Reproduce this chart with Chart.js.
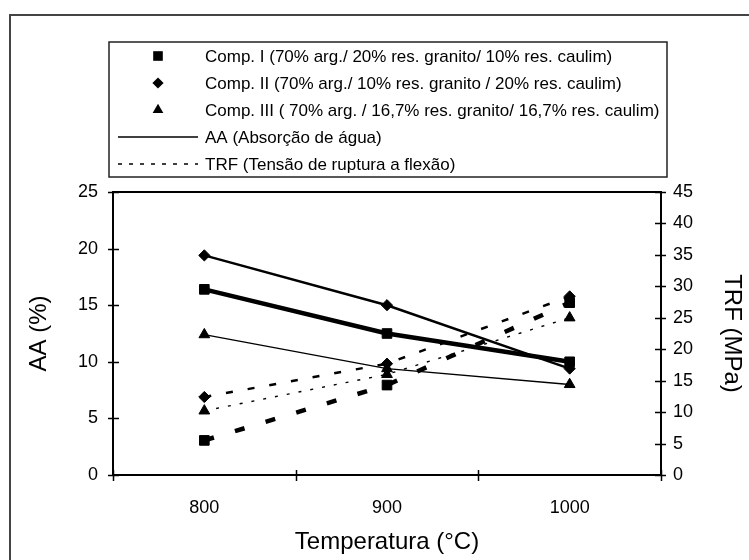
<!DOCTYPE html>
<html><head><meta charset="utf-8">
<script src="https://cdn.jsdelivr.net/npm/chart.js@4.4.1/dist/chart.umd.min.js"></script>
<style>html,body{margin:0;padding:0;background:#fff}#wrap{width:749px;height:560px;position:relative}</style>
</head><body><div id="wrap"><canvas id="c" width="749" height="560"></canvas></div>
<script>
// ---- data ----
const temperatures = ['800', '900', '1000'];
const aaComp1 = [16.4, 12.5, 10.0];
const aaComp2 = [19.4, 15.0, 9.4];
const aaComp3 = [12.4, 9.4, 8.0];
const trfComp1 = [5.5, 14.3, 27.4];
const trfComp2 = [12.4, 17.7, 28.4];
const trfComp3 = [10.2, 16.0, 25.0];
const compLabels = [
  'Comp. I (70% arg./ 20% res. granito/ 10% res. caulim)',
  'Comp. II (70% arg./ 10% res. granito / 20% res. caulim)',
  'Comp. III ( 70% arg. / 16,7% res. granito/ 16,7% res. caulim)'
];
const propLabels = ['AA (Absorção de água)', 'TRF (Tensão de ruptura a flexão)'];
const aaRange = [0, 25];
const trfRange = [0, 45];
const xTitle = 'Temperatura (°C)';
const yTitle = 'AA (%)';
const y2Title = 'TRF (MPa)';

// ---- styles ----
const FONT = '"Liberation Sans", Arial, sans-serif';
const compStyle = [
  {pointStyle: 'rect', radius: 6.8, width: 4.5, dash: [10, 22]},
  {pointStyle: 'rectRot', radius: 5.6, width: 2.5, dash: [7, 15]},
  {pointStyle: 'triangle', radius: 6.2, width: 1.4, dash: [3, 9]}
];
function ds(label, data, i, axis, dashed) {
  const s = compStyle[i];
  return {
    label, data, yAxisID: axis,
    borderColor: '#000', backgroundColor: '#000',
    borderWidth: s.width, borderDash: dashed ? s.dash : [],
    pointStyle: s.pointStyle, pointRadius: s.radius,
    pointBorderWidth: 1, pointBackgroundColor: '#000', pointBorderColor: '#000',
    tension: 0, fill: false
  };
}
const datasets = [
  ds(compLabels[0] + ' AA', aaComp1, 0, 'y', false),
  ds(compLabels[1] + ' AA', aaComp2, 1, 'y', false),
  ds(compLabels[2] + ' AA', aaComp3, 2, 'y', false),
  ds(compLabels[0] + ' TRF', trfComp1, 0, 'y2', true),
  ds(compLabels[1] + ' TRF', trfComp2, 1, 'y2', true),
  ds(compLabels[2] + ' TRF', trfComp3, 2, 'y2', true)
];

function marker(ctx, style, x, y, r) {
  ctx.beginPath();
  if (style === 'rect') {
    const s = r * Math.SQRT1_2;
    ctx.rect(x - s, y - s, 2 * s, 2 * s);
  } else if (style === 'rectRot') {
    ctx.moveTo(x, y - r); ctx.lineTo(x + r, y); ctx.lineTo(x, y + r); ctx.lineTo(x - r, y); ctx.closePath();
  } else {
    const w = r * Math.sqrt(3) / 2;
    ctx.moveTo(x, y - r); ctx.lineTo(x + w, y + r / 2); ctx.lineTo(x - w, y + r / 2); ctx.closePath();
  }
  ctx.fill();
}

const decor = {
  id: 'decor',
  beforeDraw(chart) {
    const ctx = chart.ctx;
    ctx.save(); ctx.fillStyle = '#fff'; ctx.fillRect(0, 0, chart.width, chart.height); ctx.restore();
  },
  afterDraw(chart) {
    const {ctx, chartArea: a, scales} = chart;
    ctx.save();
    // outer frame
    ctx.strokeStyle = '#444'; ctx.lineWidth = 2;
    ctx.beginPath(); ctx.moveTo(10, 560); ctx.lineTo(10, 15); ctx.lineTo(749, 15); ctx.stroke();
    // plot frame
    ctx.strokeStyle = '#000'; ctx.lineWidth = 2;
    ctx.strokeRect(a.left, a.top, a.right - a.left, a.bottom - a.top);
    ctx.lineWidth = 1.5;
    ctx.beginPath();
    scales.y.ticks.forEach(t => { const y = Math.round(scales.y.getPixelForValue(t.value)) + 0.5; ctx.moveTo(a.left - 5, y); ctx.lineTo(a.left + 6, y); });
    scales.y2.ticks.forEach(t => { const y = Math.round(scales.y2.getPixelForValue(t.value)) + 0.5; ctx.moveTo(a.right - 6, y); ctx.lineTo(a.right + 5, y); });
    for (let i = 0; i <= temperatures.length; i++) {
      const x = Math.round(scales.x.getPixelForValue(i - 0.5)) + 0.5;
      ctx.moveTo(x, a.bottom - 5); ctx.lineTo(x, a.bottom + 6);
    }
    ctx.stroke();
    // legend
    const L = {left: 109, top: 42, right: 667, bottom: 177};
    ctx.lineWidth = 1.5; ctx.strokeStyle = '#222';
    ctx.strokeRect(L.left, L.top, L.right - L.left, L.bottom - L.top);
    const rows = [56, 83, 110, 137, 164];
    ctx.fillStyle = '#000';
    ctx.font = '17px ' + FONT;
    ctx.textBaseline = 'middle'; ctx.textAlign = 'left';
    for (let i = 0; i < 3; i++) {
      marker(ctx, compStyle[i].pointStyle, 158, rows[i], compStyle[i].radius);
      ctx.fillText(compLabels[i], 205, rows[i] + 1);
    }
    ctx.strokeStyle = '#000';
    ctx.lineWidth = 1.5;
    ctx.beginPath(); ctx.moveTo(118, rows[3]); ctx.lineTo(198, rows[3]); ctx.stroke();
    ctx.setLineDash([4, 7]);
    ctx.beginPath(); ctx.moveTo(118, rows[4]); ctx.lineTo(198, rows[4]); ctx.stroke();
    ctx.setLineDash([]);
    ctx.fillText(propLabels[0], 205, rows[3] + 1);
    ctx.fillText(propLabels[1], 205, rows[4] + 1);
    ctx.restore();
  }
};

Chart.defaults.font.family = FONT;
Chart.defaults.color = '#000';

new Chart(document.getElementById('c'), {
  type: 'line',
  data: {labels: temperatures, datasets},
  options: {
    responsive: false, animation: false, devicePixelRatio: 1,
    layout: {padding: {top: 192, left: 0, right: 0, bottom: 0}},
    plugins: {legend: {display: false}, tooltip: {enabled: false}},
    scales: {
      x: {
        type: 'category', offset: true,
        grid: {display: false, drawTicks: false}, border: {display: false},
        ticks: {font: {size: 18}, padding: 22, color: '#000'},
        title: {display: true, text: xTitle, font: {size: 24}, padding: {top: 0, bottom: 3}, color: '#000'},
        afterFit(s) { s.height = 85; }
      },
      y: {
        position: 'left', min: aaRange[0], max: aaRange[1],
        grid: {display: false, drawTicks: false}, border: {display: false},
        ticks: {stepSize: 5, font: {size: 18}, padding: 15, color: '#000'},
        title: {display: true, text: yTitle, font: {size: 24}, padding: {top: 25, bottom: 0}, color: '#000'},
        afterFit(s) { s.width = 113; }
      },
      y2: {
        position: 'right', min: trfRange[0], max: trfRange[1],
        grid: {display: false, drawTicks: false}, border: {display: false},
        ticks: {stepSize: 5, font: {size: 18}, padding: 12, color: '#000'},
        title: {display: true, text: y2Title, font: {size: 24}, padding: {top: 3, bottom: 0}, color: '#000'},
        afterFit(s) { s.width = 88; }
      }
    }
  },
  plugins: [decor]
});
</script></body></html>
